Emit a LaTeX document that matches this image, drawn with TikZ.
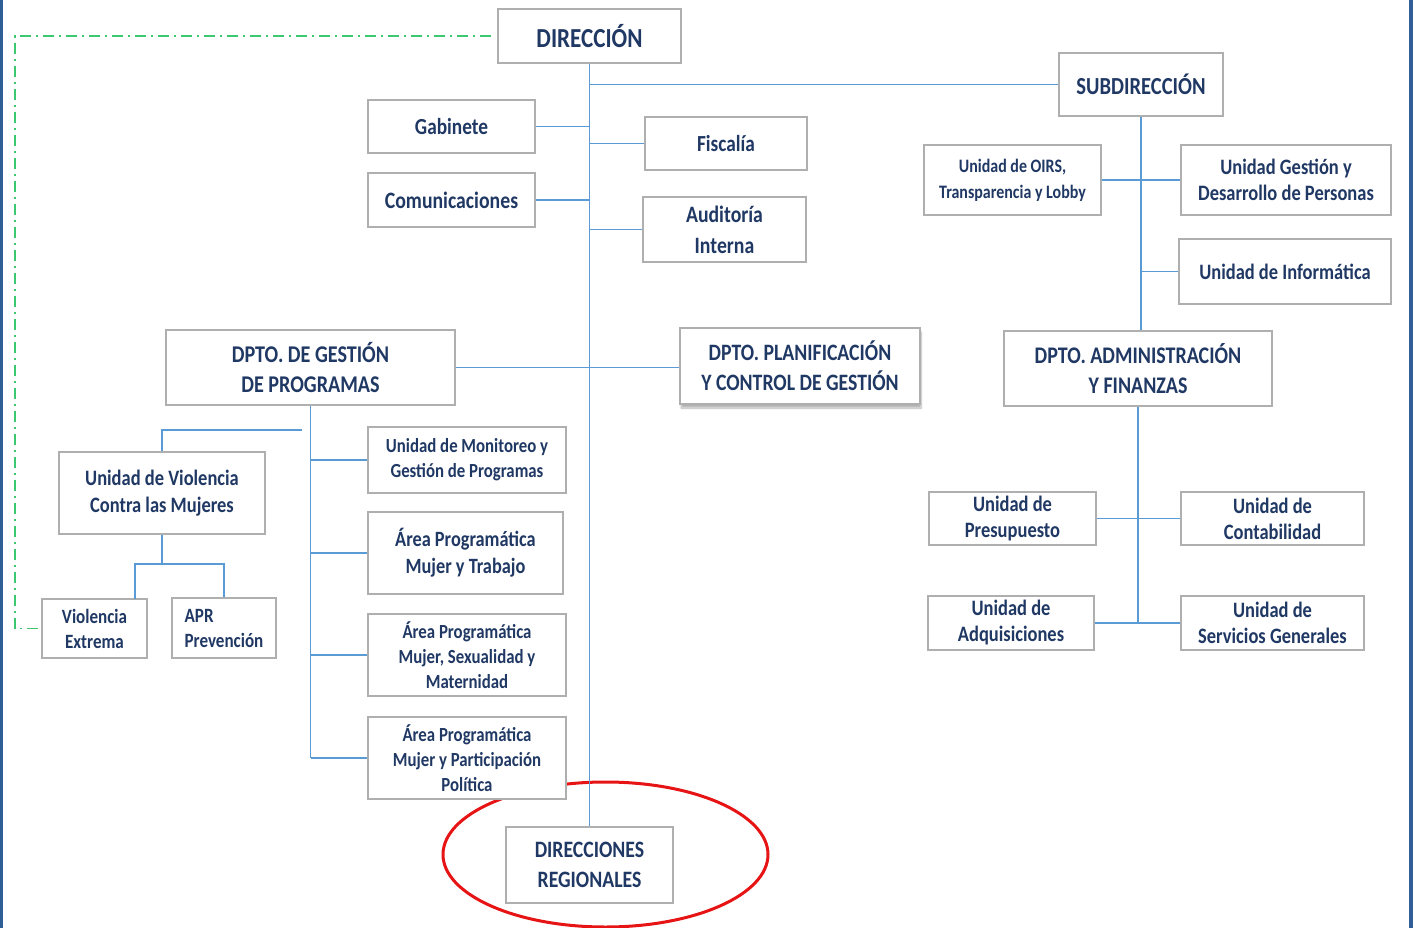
\documentclass[tikz,border=0pt]{standalone}
\usepackage{fontspec}
\setmainfont{Carlito}[FakeStretch=0.84]
\usetikzlibrary{shadows.blur}
\definecolor{boxgray}{RGB}{175,175,175}
\definecolor{navy}{RGB}{32,56,100}
\definecolor{linkblue}{RGB}{91,155,213}
\definecolor{dashgreen}{RGB}{60,200,110}
\definecolor{ringred}{RGB}{230,20,20}
\definecolor{edgeblue}{RGB}{47,95,150}
\tikzset{
  box/.style={draw=boxgray, line width=1.5pt, fill=white, text=navy, align=center, inner sep=0pt},
  dims/.style 2 args={minimum width=#1pt, minimum height=#2pt},
  sz/.style 2 args={font=\fontsize{#1}{#2}\selectfont\bfseries},
  link/.style={draw=linkblue, line width=1.5pt},
  liaison/.style={draw=dashgreen, line width=1.6pt, dash pattern=on 11pt off 5pt on 2pt off 5pt}
}

\begin{document}
\begin{tikzpicture}[x=1pt, y=-1pt]

\useasboundingbox (0,0) rectangle (1413,928);
\fill[edgeblue] (0,0) rectangle (2.5,928);
\fill[edgeblue] (1409,0) rectangle (1413,928);

\draw[ringred, line width=3pt] (605.5,854.5) ellipse [x radius=162.5, y radius=72.5];

% direccion y apoyo
\node[box, dims={183}{54}, sz={27.5}{33}] (dir) at (589.5,36) {DIRECCIÓN};
\node[box, dims={167}{53}, sz={23}{28}] (gab) at (451.5,126.5) {Gabinete};
\node[box, dims={167}{54}, sz={23.5}{28}] (com) at (451.5,200) {Comunicaciones};
\node[box, dims={162}{53}, sz={23}{28}] (fisc) at (726,143.5) {Fiscalía};
\node[box, dims={163}{65}, sz={23.5}{31}] (audit) at (724.5,229.5) {Auditoría\\Interna};

% subdireccion
\node[box, dims={164}{63}, sz={24.5}{29}] (sub) at (1141,84.5) {SUBDIRECCIÓN};
\node[box, dims={177}{70}, sz={19}{26}] (oirs) at (1012.5,180) {Unidad de OIRS,\\Transparencia y Lobby};
\node[box, dims={210}{70}, sz={22}{26}] (personas) at (1286,180) {Unidad Gestión y\\Desarrollo de Personas};
\node[box, dims={212}{65}, sz={22}{26}] (info) at (1285,271.5) {Unidad de Informática};

% departamentos
\node[box, dims={289}{75}, sz={24}{30}] (gestion) at (310.5,367.5) {DPTO. DE GESTIÓN\\DE PROGRAMAS};
\node[box, dims={240}{76}, sz={23.5}{30}, blur shadow={shadow xshift=1pt, shadow yshift=-4pt, shadow blur steps=8, shadow opacity=30}] (planif) at (800,366) {DPTO. PLANIFICACIÓN\\Y CONTROL DE GESTIÓN};
\node[box, dims={268}{75}, sz={23.8}{30}] (admin) at (1138,368.5) {DPTO. ADMINISTRACIÓN\\Y FINANZAS};

% unidades de programas
\node[box, dims={206}{82}, sz={22}{27}] (vcm) at (162,493) {Unidad de Violencia\\Contra las Mujeres};
\node[box, dims={105}{59}, sz={20.3}{25}] (vext) at (94.5,628.5) {Violencia\\Extrema};
\node[box, dims={104}{60}, sz={20.3}{25}, align=left] (apr) at (224,628) {APR\\Prevención};
\node[box, dims={198}{66}, sz={20}{25}] (monit) at (467,460) {Unidad de Monitoreo y\\Gestión de Programas};
\node[box, dims={195}{82}, sz={21.8}{27}] (trabajo) at (465.5,553) {Área Programática\\Mujer y Trabajo};
\node[box, dims={198}{82}, sz={20}{25}] (sexual) at (467,655) {Área Programática\\Mujer, Sexualidad y\\Maternidad};
\node[box, dims={198}{82}, sz={20}{25}] (partic) at (467,758) {Área Programática\\Mujer y Participación\\Política};

% unidades de administracion
\node[box, dims={167}{53}, sz={22}{26}] (presu) at (1012.5,518.5) {Unidad de\\Presupuesto};
\node[box, dims={183}{53}, sz={22}{26}] (conta) at (1272.5,518.5) {Unidad de\\Contabilidad};
\node[box, dims={166}{54}, sz={22}{26}] (adq) at (1011,623) {Unidad de\\Adquisiciones};
\node[box, dims={183}{54}, sz={22}{26}] (serv) at (1272.5,623) {Unidad de\\Servicios Generales};

\node[box, dims={167}{76}, sz={23.5}{30}] (regional) at (589.5,865) {DIRECCIONES\\REGIONALES};

% conectores
\draw[link] (dir.south) -- (regional.north);
\draw[link] (dir.south |- sub.west) -- (sub.west);
\draw[link] (gab.east) -- (gab.east -| dir.south);
\draw[link] (com.east) -- (com.east -| dir.south);
\draw[link] (fisc.west) -- (fisc.west -| dir.south);
\draw[link] (audit.west) -- (audit.west -| dir.south);
\draw[link] (gestion.east) -- (gestion.east -| planif.west);

\draw[link] (sub.south) -- (sub.south |- admin.north);
\draw[link] (oirs.east) -- (personas.west);
\draw[link] (info.west) -- (info.west -| sub.south);
\draw[link] (admin.south) -- (admin.south |- adq.east);
\draw[link] (presu.east) -- (conta.west);
\draw[link] (adq.east) -- (serv.west);

\draw[link] (gestion.south) -- (gestion.south |- partic.west);
\foreach \n in {monit,trabajo,sexual,partic}
  \draw[link] (\n.west) -- (\n.west -| gestion.south);
\coordinate (vknee) at (302,430);
\draw[link] (vknee) -| (vcm.north);
\coordinate (vsplit) at (162,564);
\coordinate (vdrop) at (135,599);
\draw[link] (vcm.south) -- (vsplit);
\draw[link] (vdrop) |- (vsplit) -| (apr.north);

\coordinate (gcorner) at (15,36);
\draw[liaison] ([xshift=-6pt]dir.west) -- (gcorner) |- (vext.west);
\end{tikzpicture}
\end{document}
